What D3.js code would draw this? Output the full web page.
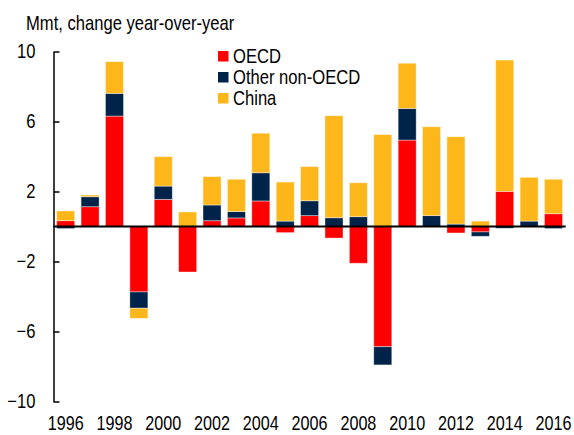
<!DOCTYPE html>
<html>
<head>
<meta charset="utf-8">
<script src="https://cdn.jsdelivr.net/npm/d3@7"></script>
<style>
  html, body { margin: 0; padding: 0; background: #fff; }
  svg { display: block; }
</style>
</head>
<body>
<div id="chart"></div>
<script>
// data (Mmt, change year-over-year)
const years = d3.range(1996, 2017);
const oecd  = [0.33, 1.13, 6.31, -3.74, 1.55, -2.6, 0.33, 0.49, 1.46, -0.35, 0.62, -0.66, -2.1, -6.87, 4.94, 0, -0.37, -0.31, 2.01, 0, 0.73];
const other = [-0.12, 0.57, 1.3, -0.93, 0.76, 0, 0.9, 0.36, 1.61, 0.31, 0.85, 0.5, 0.56, -1.04, 1.81, 0.62, 0.14, -0.25, -0.1, 0.31, -0.12];
const china = [0.56, 0.1, 1.81, -0.58, 1.68, 0.83, 1.62, 1.85, 2.26, 2.23, 1.95, 5.83, 1.94, 5.25, 2.58, 5.08, 4.99, 0.31, 7.5, 2.5, 1.97];
const yTicks = [10, 6, 2, -2, -6, -10];
const xTickYears = d3.range(1996, 2017, 2);
const seriesNames = ["OECD", "Other non-OECD", "China"];
const seriesColors = ["#ff0000", "#00234a", "#fdb71a"];

(function(){
  const width = 574, height = 435;
  const margin = {top: 51.5, right: 8.3, bottom: 33.5, left: 53.5};
  const font = "'Liberation Sans', Arial, sans-serif";
  const narrow = 0.83; // squeeze text horizontally, the original uses a narrow face

  // squeeze a text around its own x anchor
  const squeeze = sel => sel.each(function(){
    const t = d3.select(this);
    const x0 = +t.attr("x") || 0;
    t.attr("transform", `translate(${x0},0) scale(${narrow},1) translate(${-x0},0)`);
  });

  const svg = d3.select("#chart").append("svg")
    .attr("width", width)
    .attr("height", height)
    .attr("font-family", font);

  const rows = years.map((y, i) => ({year: y, oecd: oecd[i], other: other[i], china: china[i]}));
  const keys = ["oecd", "other", "china"];

  const stacked = d3.stack()
    .keys(keys)
    .offset(d3.stackOffsetDiverging)(rows);

  const x = d3.scaleBand()
    .domain(years)
    .range([margin.left, width - margin.right])
    .paddingInner(0.26)
    .paddingOuter(0.13);

  const y = d3.scaleLinear()
    .domain([-10, 10])
    .range([height - margin.bottom, margin.top]);

  // bars
  svg.append("g").selectAll("g")
    .data(stacked)
    .join("g")
      .attr("fill", (d, i) => seriesColors[i])
    .selectAll("rect")
    .data(d => d)
    .join("rect")
      .attr("x", d => x(d.data.year))
      .attr("width", x.bandwidth())
      .attr("y", d => y(Math.max(d[0], d[1])))
      .attr("height", d => Math.abs(y(d[0]) - y(d[1])))
      .attr("stroke", "#fff")
      .attr("stroke-width", 0.8)
      .attr("stroke-opacity", 0.5);

  // y axis, ticks pointing inwards
  const yAxis = d3.axisLeft(y)
    .tickValues(yTicks)
    .tickSize(-6)
    .tickSizeOuter(0)
    .tickPadding(18)
    .tickFormat(d3.format("d"));
  const yg = svg.append("g")
    .attr("transform", `translate(${margin.left},0)`)
    .call(yAxis);
  yg.select(".domain").attr("stroke", "#000").attr("stroke-width", 1.5);
  yg.selectAll(".tick line").attr("stroke", "#000").attr("stroke-width", 1.5);
  yg.selectAll("text")
    .attr("fill", "#000")
    .style("font-size", "20px")
    .style("font-family", font)
    .call(squeeze);

  // zero line
  svg.append("line")
    .attr("x1", margin.left)
    .attr("x2", width - margin.right)
    .attr("y1", y(0))
    .attr("y2", y(0))
    .attr("stroke", "#000")
    .attr("stroke-width", 2);

  // x axis labels (bottom, no line) - kept just inside the frame
  const xAxis = d3.axisBottom(x)
    .tickValues(xTickYears)
    .tickSize(0)
    .tickPadding(14.5);
  const xg = svg.append("g")
    .attr("transform", `translate(0,${height - margin.bottom})`)
    .call(xAxis);
  xg.select(".domain").remove();
  xg.selectAll("text")
    .attr("fill", "#000")
    .style("font-size", "19.5px")
    .style("font-family", font)
    .call(squeeze);

  // unit label
  svg.append("text")
    .attr("x", 26)
    .attr("y", 30)
    .style("font-size", "20px")
    .attr("fill", "#000")
    .text("Mmt, change year-over-year")
    .call(squeeze);

  // legend
  const legend = svg.append("g")
    .attr("transform", "translate(218,51)");
  const item = legend.selectAll("g")
    .data(seriesNames)
    .join("g")
      .attr("transform", (d, i) => `translate(0,${i * 21})`);
  item.append("rect")
    .attr("width", 10.5)
    .attr("height", 10.5)
    .attr("fill", (d, i) => seriesColors[i]);
  item.append("text")
    .attr("x", 15)
    .attr("y", 11.5)
    .style("font-size", "20px")
    .attr("fill", "#000")
    .text(d => d)
    .call(squeeze);
})();
</script>
</body>
</html>
